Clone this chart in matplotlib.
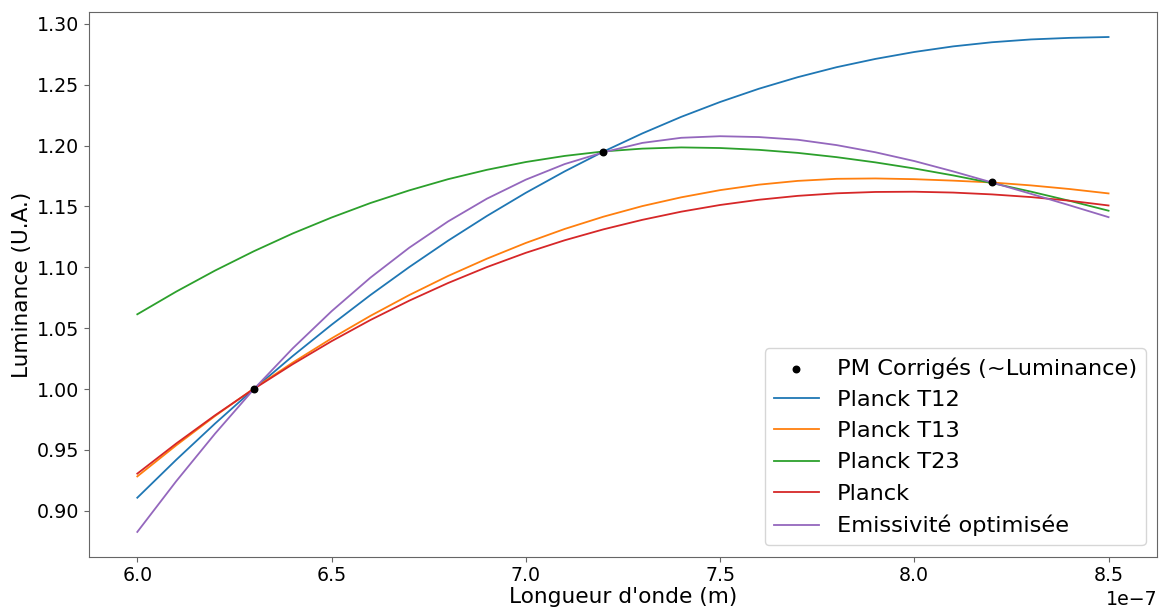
import matplotlib
matplotlib.use("Agg")
import matplotlib.pyplot as plt
import numpy as np

# wavelengths in units of 1e-7 m
lam = [6.0, 6.1, 6.2, 6.3, 6.4, 6.5, 6.6, 6.7, 6.8, 6.9,
       7.0, 7.1, 7.2, 7.3, 7.4, 7.5, 7.6, 7.7, 7.8, 7.9,
       8.0, 8.1, 8.2, 8.3, 8.4, 8.5]

# corrected PM values (~luminance)
lam_pm = [6.3, 7.2, 8.2]
pm = [1.000, 1.1946, 1.1697]

planck_t12 = [0.9107, 0.9418, 0.9716, 1.0000, 1.0271, 1.0528, 1.0772, 1.1002, 1.1219, 1.1422,
              1.1612, 1.1788, 1.1951, 1.2100, 1.2236, 1.2358, 1.2467, 1.2562, 1.2644, 1.2712,
              1.2769, 1.2815, 1.2849, 1.2872, 1.2885, 1.2892]
planck_t13 = [0.9282, 0.9537, 0.9778, 1.0005, 1.0217, 1.0416, 1.0601, 1.0772, 1.0929, 1.1071,
              1.1200, 1.1315, 1.1416, 1.1503, 1.1575, 1.1634, 1.1679, 1.1710, 1.1727, 1.1730,
              1.1724, 1.1712, 1.1697, 1.1673, 1.1643, 1.1607]
planck_t23 = [1.0614, 1.0800, 1.0973, 1.1132, 1.1278, 1.1409, 1.1528, 1.1632, 1.1724, 1.1801,
              1.1865, 1.1915, 1.1952, 1.1975, 1.1985, 1.1980, 1.1965, 1.1940, 1.1905, 1.1862,
              1.1812, 1.1755, 1.1692, 1.1622, 1.1546, 1.1465]
planck = [0.9305, 0.9552, 0.9784, 1.0001, 1.0204, 1.0393, 1.0567, 1.0726, 1.0871, 1.1002,
          1.1119, 1.1222, 1.1312, 1.1390, 1.1457, 1.1512, 1.1555, 1.1587, 1.1608, 1.1619,
          1.1621, 1.1614, 1.1599, 1.1577, 1.1547, 1.1508]
emissivite = [0.8826, 0.9242, 0.9633, 0.9999, 1.0334, 1.0639, 1.0915, 1.1161, 1.1377, 1.1564,
              1.1720, 1.1848, 1.1945, 1.2022, 1.2064, 1.2077, 1.2070, 1.2048, 1.2004, 1.1945,
              1.1873, 1.1788, 1.1697, 1.1604, 1.1509, 1.1412]

x = np.array(lam) * 1e-7
x_pm = np.array(lam_pm) * 1e-7

fig = plt.figure(figsize=(11.6, 6.07), dpi=100)
ax = fig.add_axes([0.0765, 0.0829, 0.921, 0.8969])

ax.scatter(x_pm, pm, color='black', s=22, zorder=3, label='PM Corrigés (~Luminance)')
ax.plot(x, planck_t12, lw=1.3, label='Planck T12')
ax.plot(x, planck_t13, lw=1.3, label='Planck T13')
ax.plot(x, planck_t23, lw=1.3, label='Planck T23')
ax.plot(x, planck, lw=1.3, label='Planck')
ax.plot(x, emissivite, lw=1.3, label='Emissivité optimisée')

ax.set_xlabel("Longueur d'onde (m)", fontsize=15.6, labelpad=1.5)
ax.set_ylabel("Luminance (U.A.)", fontsize=15.6, labelpad=3)
ax.tick_params(labelsize=13.7, color='#666666')
ax.xaxis.get_offset_text().set_fontsize(13.7)
for s in ax.spines.values():
    s.set_color('#666666')

ax.legend(loc='lower right', fontsize=16.2)

fig.savefig('out.png', dpi=100)
